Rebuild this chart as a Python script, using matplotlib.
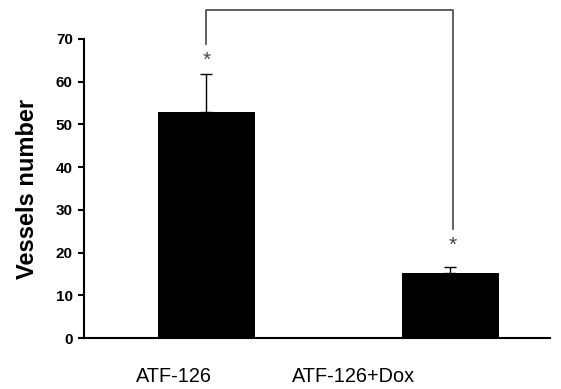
import matplotlib
matplotlib.use("Agg")
import matplotlib.pyplot as plt

categories = ["ATF-126", "ATF-126+Dox"]
values = [52.9, 15.2]
errors = [8.9, 1.4]
yticks = [0, 10, 20, 30, 40, 50, 60, 70]

fig = plt.figure(figsize=(5.61, 3.89), dpi=100)
ax = fig.add_axes([0.1497, 0.131, 0.8303, 0.769])
x = [0, 1]
ax.bar(x, values, width=0.4, color="black", zorder=2)
ax.errorbar(x, values, yerr=[[0, 0], errors], fmt="none", ecolor="black",
            elinewidth=1.0, capsize=4, capthick=1.0, zorder=3)
ax.set_xlim(-0.502, 1.408)
ax.set_ylim(0, 70)
ax.set_yticks(yticks)
ax.set_yticklabels([str(t) for t in yticks], fontfamily="Liberation Sans",
                   fontweight="bold", fontsize=11)
ax.set_xticks([])
for s in ["top", "right"]:
    ax.spines[s].set_visible(False)
ax.spines["left"].set_linewidth(1.5)
ax.spines["bottom"].set_linewidth(1.5)
ax.tick_params(axis="y", direction="out", length=4, width=1.5, pad=4)
ax.set_ylabel("Vessels number", fontfamily="Liberation Sans", fontweight="bold",
              fontsize=17, labelpad=12)

# category labels (offset as in reference)
label_x = [-0.135, 0.603]
for lx, lab in zip(label_x, categories):
    ax.text(lx, -0.128, lab, transform=ax.get_xaxis_transform(), ha="center",
            va="center", fontfamily="Liberation Sans", fontsize=14.3)

# significance bracket
grey = "#444444"
ax.plot([0, 0, 1.01, 1.01], [68.8, 76.8, 76.8, 25.5], color=grey, lw=1.2,
        clip_on=False, zorder=4)
ax.text(0, 65.0, "*", ha="center", va="center", fontsize=15, color=grey,
        fontfamily="Liberation Sans")
ax.text(1.01, 21.8, "*", ha="center", va="center", fontsize=15, color=grey,
        fontfamily="Liberation Sans")

fig.savefig("out.png", dpi=100)
